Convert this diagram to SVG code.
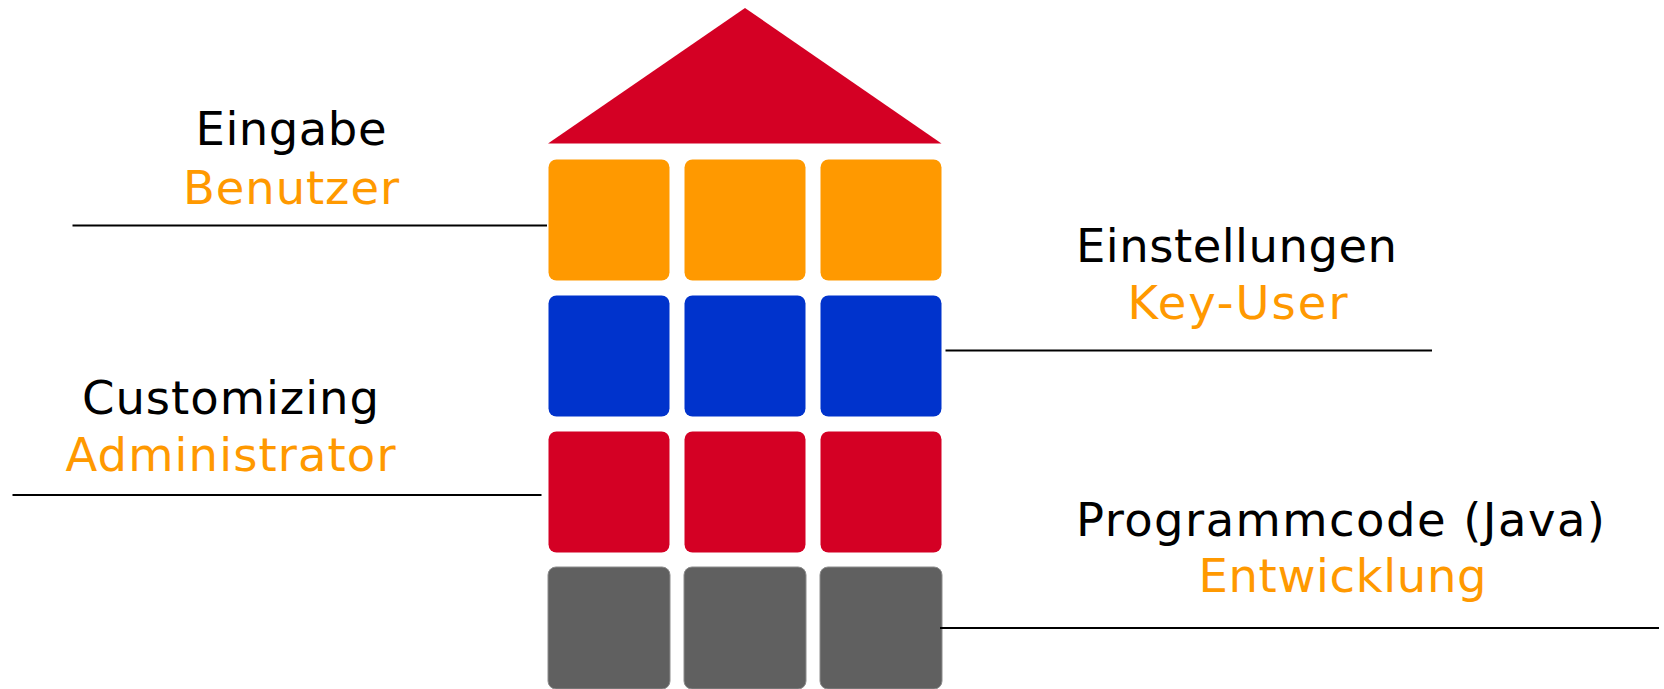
<svg xmlns="http://www.w3.org/2000/svg" width="1664" height="689" viewBox="0 0 1664 689">
<style>
.t{font-family:"DejaVu Sans","Liberation Sans",sans-serif;font-size:46.5px;text-anchor:middle}
.k{fill:#000}
.o{fill:#FF9900}
.ln{stroke:#000;stroke-width:2;fill:none}
.b{rx:8;ry:8}
.or{fill:#FF9900}
.bl{fill:#0033CC}
.rd{fill:#D40024}
.gy{fill:#606060;stroke:#8C8C8C;stroke-width:1}
</style>
<rect width="1664" height="689" fill="#fff"/>
<g id="roof"><polygon points="745,8 941.5,143.5 548,143.5" fill="#D40024"/></g>
<g id="row-benutzer">
<rect class="b or" x="548.5" y="159.5" width="121" height="121"/>
<rect class="b or" x="684.5" y="159.5" width="121" height="121"/>
<rect class="b or" x="820.5" y="159.5" width="121" height="121"/>
</g>
<g id="row-keyuser">
<rect class="b bl" x="548.5" y="295.5" width="121" height="121"/>
<rect class="b bl" x="684.5" y="295.5" width="121" height="121"/>
<rect class="b bl" x="820.5" y="295.5" width="121" height="121"/>
</g>
<g id="row-administrator">
<rect class="b rd" x="548.5" y="431.5" width="121" height="121"/>
<rect class="b rd" x="684.5" y="431.5" width="121" height="121"/>
<rect class="b rd" x="820.5" y="431.5" width="121" height="121"/>
</g>
<g id="row-entwicklung">
<rect class="b gy" x="548" y="567" width="122" height="122"/>
<rect class="b gy" x="684" y="567" width="122" height="122"/>
<rect class="b gy" x="820" y="567" width="122" height="122"/>
</g>
<g id="connectors">
<line class="ln" x1="72.5" y1="225.5" x2="547" y2="225.5"/>
<line class="ln" x1="12.5" y1="495" x2="541.5" y2="495"/>
<line class="ln" x1="945.5" y1="350.5" x2="1432" y2="350.5"/>
<line class="ln" x1="940" y1="628" x2="1659" y2="628"/>
</g>
<g id="label-eingabe">
<text class="t k" x="291" y="144.5" textLength="191" lengthAdjust="spacing">Eingabe</text>
<text class="t o" x="291" y="203.5" textLength="216" lengthAdjust="spacing">Benutzer</text>
</g>
<g id="label-customizing">
<text class="t k" x="230.5" y="414" textLength="297" lengthAdjust="spacing">Customizing</text>
<text class="t o" x="230.5" y="471" textLength="330" lengthAdjust="spacing">Administrator</text>
</g>
<g id="label-einstellungen">
<text class="t k" x="1236.5" y="262" textLength="321" lengthAdjust="spacing">Einstellungen</text>
<text class="t o" x="1237.5" y="318.5" textLength="220" lengthAdjust="spacing">Key-User</text>
</g>
<g id="label-programmcode">
<text class="t k" x="1340.5" y="536" textLength="529" lengthAdjust="spacing">Programmcode (Java)</text>
<text class="t o" x="1342.5" y="592" textLength="288" lengthAdjust="spacing">Entwicklung</text>
</g>
</svg>
